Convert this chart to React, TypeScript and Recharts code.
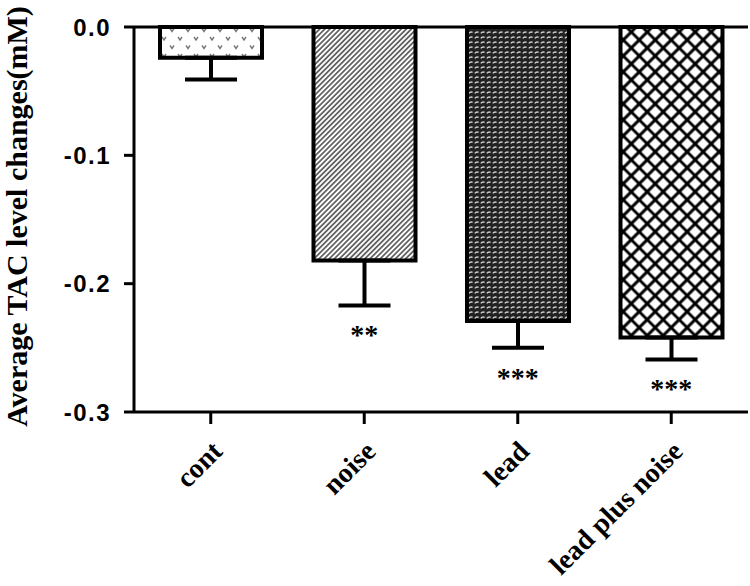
import {
  Bar,
  Cell,
  ComposedChart,
  ErrorBar,
  Label,
  ReferenceLine,
  Scatter,
  XAxis,
  YAxis,
} from "recharts";

const groups = ["cont", "noise", "lead", "lead plus noise"];
const means = [-0.024, -0.182, -0.229, -0.242];
const sems = [0.017, 0.035, 0.021, 0.017];
const stars = ["", "**", "***", "***"];
const fills = ["url(#dots)", "url(#hatch)", "url(#weave)", "url(#cross)"];
const yTicks = [0, -0.1, -0.2, -0.3];

// gap between the end of the whisker and the significance marks (in mM)
const STAR_GAP = 0.021;

const data = groups.map((name, i) => ({
  name,
  mean: means[i],
  err: [sems[i], 0],
  mark: stars[i],
  markPos: stars[i] ? means[i] - sems[i] - STAR_GAP : null,
}));

const serif = "'Liberation Serif', 'Times New Roman', serif";
const sans = "'Liberation Sans', Arial, sans-serif";

function GroupTick({ x, y, payload }: any) {
  return (
    <g transform={`translate(${x + 13},${y + 27})`}>
      <text
        x={0}
        y={0}
        textAnchor="end"
        transform="rotate(-45)"
        fontFamily={serif}
        fontWeight="bold"
        fontSize={28}
        fill="#000"
      >
        {payload.value}
      </text>
    </g>
  );
}

function StarMark({ cx, cy, payload }: any) {
  if (cy == null || !payload.mark) return <g />;
  return (
    <text
      x={cx}
      y={cy + 12}
      textAnchor="middle"
      fontFamily={serif}
      fontWeight="bold"
      fontSize={28}
      fill="#000"
    >
      {payload.mark}
    </text>
  );
}

export default function App() {
  return (
    <div style={{ position: "absolute", left: 0, top: 0, background: "#fff" }}>
      <ComposedChart
        width={750}
        height={586}
        data={data}
        margin={{ top: 27, right: 2, left: 0, bottom: 0 }}
      >
        <defs>
          <pattern id="dots" patternUnits="userSpaceOnUse" width={16} height={17}>
            <rect width={16} height={17} fill="#fff" />
            <path d="M2 3 L4 6 L6 3" stroke="#777" strokeWidth={1.4} fill="none" />
            <path d="M10 11.5 L12 14.5 L14 11.5" stroke="#777" strokeWidth={1.4} fill="none" />
          </pattern>
          <pattern
            id="hatch"
            patternUnits="userSpaceOnUse"
            width={3.6}
            height={3.6}
            patternTransform="rotate(45)"
          >
            <rect width={3.6} height={3.6} fill="#fff" />
            <path d="M1.8 0 V3.6" stroke="#444" strokeWidth={1.5} />
          </pattern>
          <pattern id="weave" patternUnits="userSpaceOnUse" width={6} height={5}>
            <rect width={6} height={5} fill="#222" />
            <path d="M0.8 3.4 Q2.5 1.2 4.6 2.4" stroke="#d0d0d0" strokeWidth={1.4} fill="none" />
          </pattern>
          <pattern
            id="cross"
            patternUnits="userSpaceOnUse"
            width={11.3}
            height={11.3}
            patternTransform="rotate(45)"
          >
            <rect width={11.3} height={11.3} fill="#fff" />
            <path d="M5.65 0 V11.3 M0 5.65 H11.3" stroke="#000" strokeWidth={3} />
          </pattern>
        </defs>
        <XAxis
          dataKey="name"
          type="category"
          height={174}
          axisLine={{ stroke: "#000", strokeWidth: 3 }}
          tickLine={{ stroke: "#000", strokeWidth: 3 }}
          tickSize={12}
          interval={0}
          tick={<GroupTick />}
        />
        <YAxis
          type="number"
          domain={[-0.3, 0]}
          ticks={yTicks}
          width={134}
          axisLine={{ stroke: "#000", strokeWidth: 3 }}
          tickLine={{ stroke: "#000", strokeWidth: 3 }}
          tickSize={10}
          tickMargin={13}
          tickFormatter={(v: number) => v.toFixed(1)}
          tick={{
            fontFamily: sans,
            fontWeight: "bold",
            fontSize: 24,
            letterSpacing: 1.5,
            fill: "#000",
          }}
        >
          <Label
            content={({ viewBox }: any) => (
              <text
                transform={`translate(${viewBox.x + 27},${viewBox.y + viewBox.height / 2 - 3}) rotate(-90)`}
                textAnchor="middle"
                fontFamily={serif}
                fontWeight="bold"
                fontSize={30}
                fill="#000"
              >
                Average TAC level changes(mM)
              </text>
            )}
          />
        </YAxis>
        <ReferenceLine y={0} stroke="#000" strokeWidth={3} />
        <Bar
          dataKey="mean"
          barSize={102}
          stroke="#000"
          strokeWidth={4}
          isAnimationActive={false}
        >
          {data.map((d, i) => (
            <Cell key={d.name} fill={fills[i]} />
          ))}
          <ErrorBar
            dataKey="err"
            direction="y"
            width={26}
            stroke="#000"
            strokeWidth={4}
            isAnimationActive={false}
          />
        </Bar>
        <Scatter dataKey="markPos" shape={<StarMark />} isAnimationActive={false} />
      </ComposedChart>
    </div>
  );
}
